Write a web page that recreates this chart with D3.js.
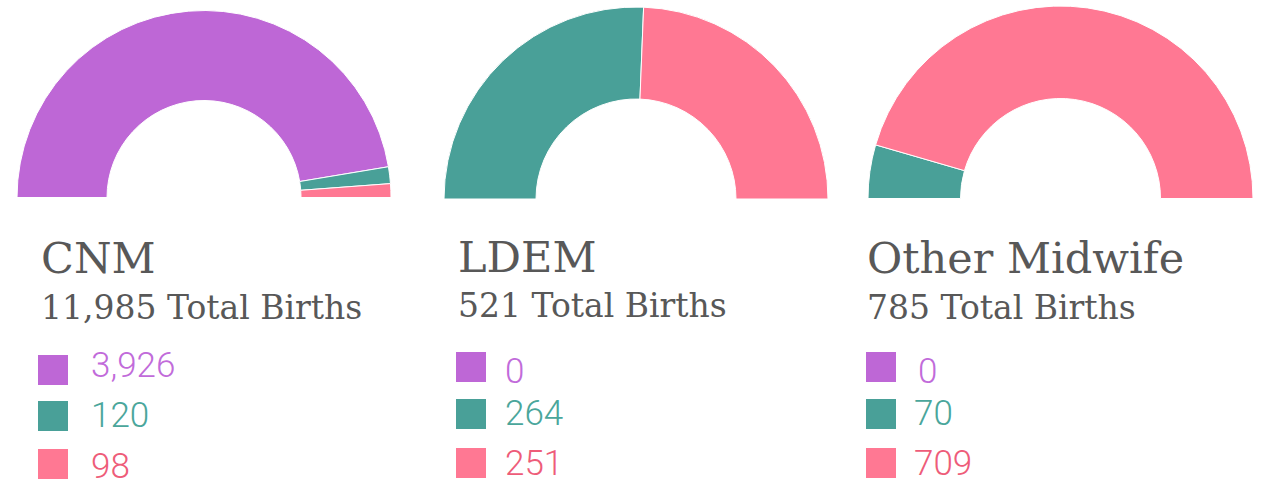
<!DOCTYPE html>
<html>
<head>
<meta charset="utf-8">
<script src="https://cdn.jsdelivr.net/npm/d3@7"></script>
<style>
  html, body { margin: 0; padding: 0; background: #fff; }
  svg { display: block; }
</style>
</head>
<body>
<svg id="chart" width="1269" height="486"></svg>
<script>
// ---- data ----
const groups = ["CNM", "LDEM", "Other Midwife"];
const totalBirths = [11985, 521, 785];
const seriesNames = ["purple", "teal", "pink"];
const purpleValues = [3926, 0, 0];
const tealValues = [120, 264, 70];
const pinkValues = [98, 251, 709];

// ---- styles / layout ----
const fillColors = ["#BE67D6", "#49A098", "#FF7893"];
const textColors = ["#C16BDA", "#4AA69B", "#EE5C79"];
const layout = [
  { cx: 204, cy: 197.5, r: 187, ri: 97, tx: 41, titleY: 273, subY: 319, sqX: 38, sqY: [355, 401, 449], lx: [91, 91, 91], lY: [377, 427, 478] },
  { cx: 636, cy: 199, r: 192, ri: 100, tx: 458, titleY: 272, subY: 317, sqX: 456, sqY: [352, 399, 448], lx: [505, 505, 505], lY: [383, 425, 475] },
  { cx: 1060.5, cy: 198.5, r: 192.5, ri: 100, tx: 867, titleY: 273, subY: 319, sqX: 866, sqY: [352, 399, 448], lx: [918, 914, 914], lY: [383, 425, 475] }
];

const svg = d3.select("#chart");
const fmt = d3.format(",");
const pie = d3.pie().sort(null).value(d => d).startAngle(-Math.PI / 2).endAngle(Math.PI / 2);

groups.forEach((g, i) => {
  const vals = [purpleValues[i], tealValues[i], pinkValues[i]];
  const L = layout[i];
  const arc = d3.arc().innerRadius(L.ri).outerRadius(L.r);
  const gg = svg.append("g").attr("transform", `translate(${L.cx},${L.cy})`);
  gg.selectAll("path")
    .data(pie(vals))
    .join("path")
    .attr("d", arc)
    .attr("fill", (d, j) => fillColors[j])
    .attr("stroke", "#fff")
    .attr("stroke-width", 1);

  svg.append("text")
    .attr("x", L.tx).attr("y", L.titleY)
    .attr("font-family", "'DejaVu Serif', serif")
    .attr("font-size", 43)
    .attr("fill", "#585858")
    .text(g);

  svg.append("text")
    .attr("x", L.tx).attr("y", L.subY)
    .attr("font-family", "'DejaVu Serif', serif")
    .attr("font-size", 33)
    .attr("fill", "#585858")
    .text(fmt(totalBirths[i]) + " Total Births");

  vals.forEach((v, j) => {
    svg.append("rect")
      .attr("x", L.sqX).attr("y", L.sqY[j])
      .attr("width", 30).attr("height", 30)
      .attr("fill", fillColors[j]);
    svg.append("text")
      .attr("x", L.lx[j]).attr("y", L.lY[j])
      .attr("font-family", "Roboto, sans-serif")
      .attr("font-weight", 300)
      .attr("font-size", 35)
      .attr("fill", textColors[j])
      .text(fmt(v));
  });
});
</script>
</body>
</html>
